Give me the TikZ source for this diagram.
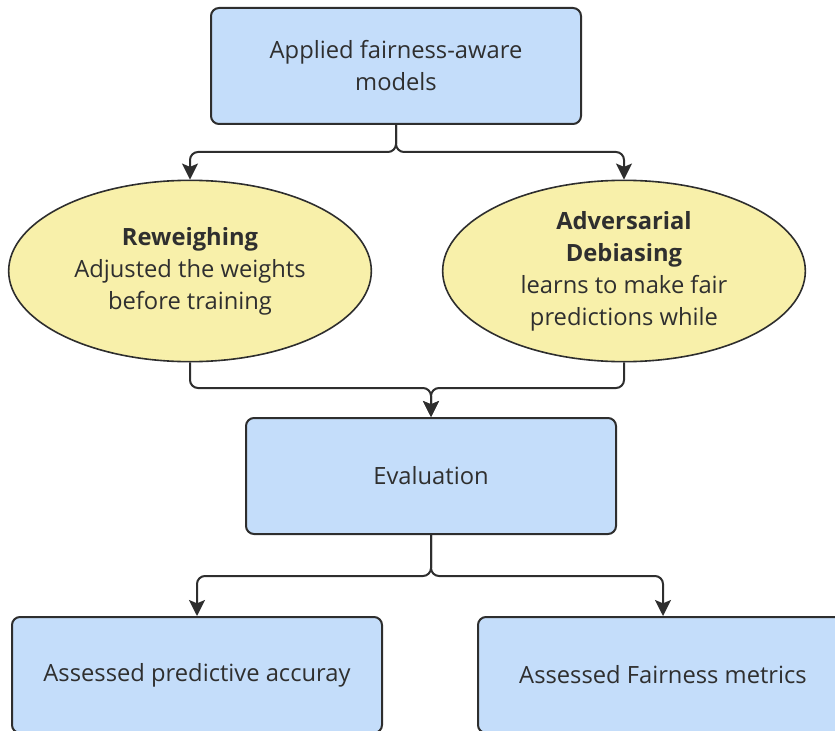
\documentclass[tikz,border=0pt]{standalone}
\usepackage{fontspec}
\setmainfont{Open Sans}
\usetikzlibrary{shapes.geometric,arrows.meta,positioning}
\definecolor{boxblue}{HTML}{C4DDFA}
\definecolor{ovalyellow}{HTML}{F8F0AA}
\definecolor{inkgray}{HTML}{2F2F2F}
\definecolor{linegray}{HTML}{2E2E2E}
\newcommand{\diagfont}{\fontsize{17.8}{24}\selectfont}

\begin{document}
\begin{tikzpicture}[x=0.75pt,y=-0.75pt,
    blockbox/.style={draw=linegray,line width=1.5pt,fill=boxblue,rounded corners=6pt,
      minimum width=277.5pt,minimum height=87pt,align=center,text=inkgray,font=\diagfont},
    oval/.style={ellipse,draw=linegray,line width=1.2pt,fill=ovalyellow,inner sep=0pt,
      minimum width=272pt,minimum height=136pt,align=center,text=inkgray,font=\diagfont},
    link/.style={draw=linegray,line width=1.5pt,rounded corners=6pt,
      -{Stealth[length=12pt,width=12pt,inset=2.5pt]}}]
    \useasboundingbox (0,0) rectangle (835,731);
    \clip (0,0) rectangle (835,731);
    % boxes and ovals
    \node[blockbox] (applied) at (396,66) {Applied fairness-aware\\models};
    \node[oval] (reweigh) at (190,271) {\textbf{Reweighing}\\Adjusted the weights\\before training};
    \node[oval] (advers) at (624,271) {\textbf{Adversarial}\\\textbf{Debiasing}\\learns to make fair\\predictions while};
    \node[blockbox] (evaluate) at (431,476) {Evaluation};
    \node[blockbox] (accuracy) at (197,675) {Assessed predictive accuray};
    \node[blockbox] (fairness) at (663,675) {Assessed Fairness metrics};
    % split and merge points
    \coordinate (split1) at (396,152);
    \coordinate (merge1) at (431,388);
    \coordinate (split2) at (431,576);
    % connectors
    \draw[link] (applied.south) -- (split1) -| (reweigh.north);
    \draw[link] (applied.south) -- (split1) -| (advers.north);
    \draw[link] (reweigh.south) |- (merge1) -- (evaluate.north);
    \draw[link] (advers.south) |- (merge1) -- (evaluate.north);
    \draw[link] (evaluate.south) -- (split2) -| (accuracy.north);
    \draw[link] (evaluate.south) -- (split2) -| (fairness.north);
\end{tikzpicture}
\end{document}
